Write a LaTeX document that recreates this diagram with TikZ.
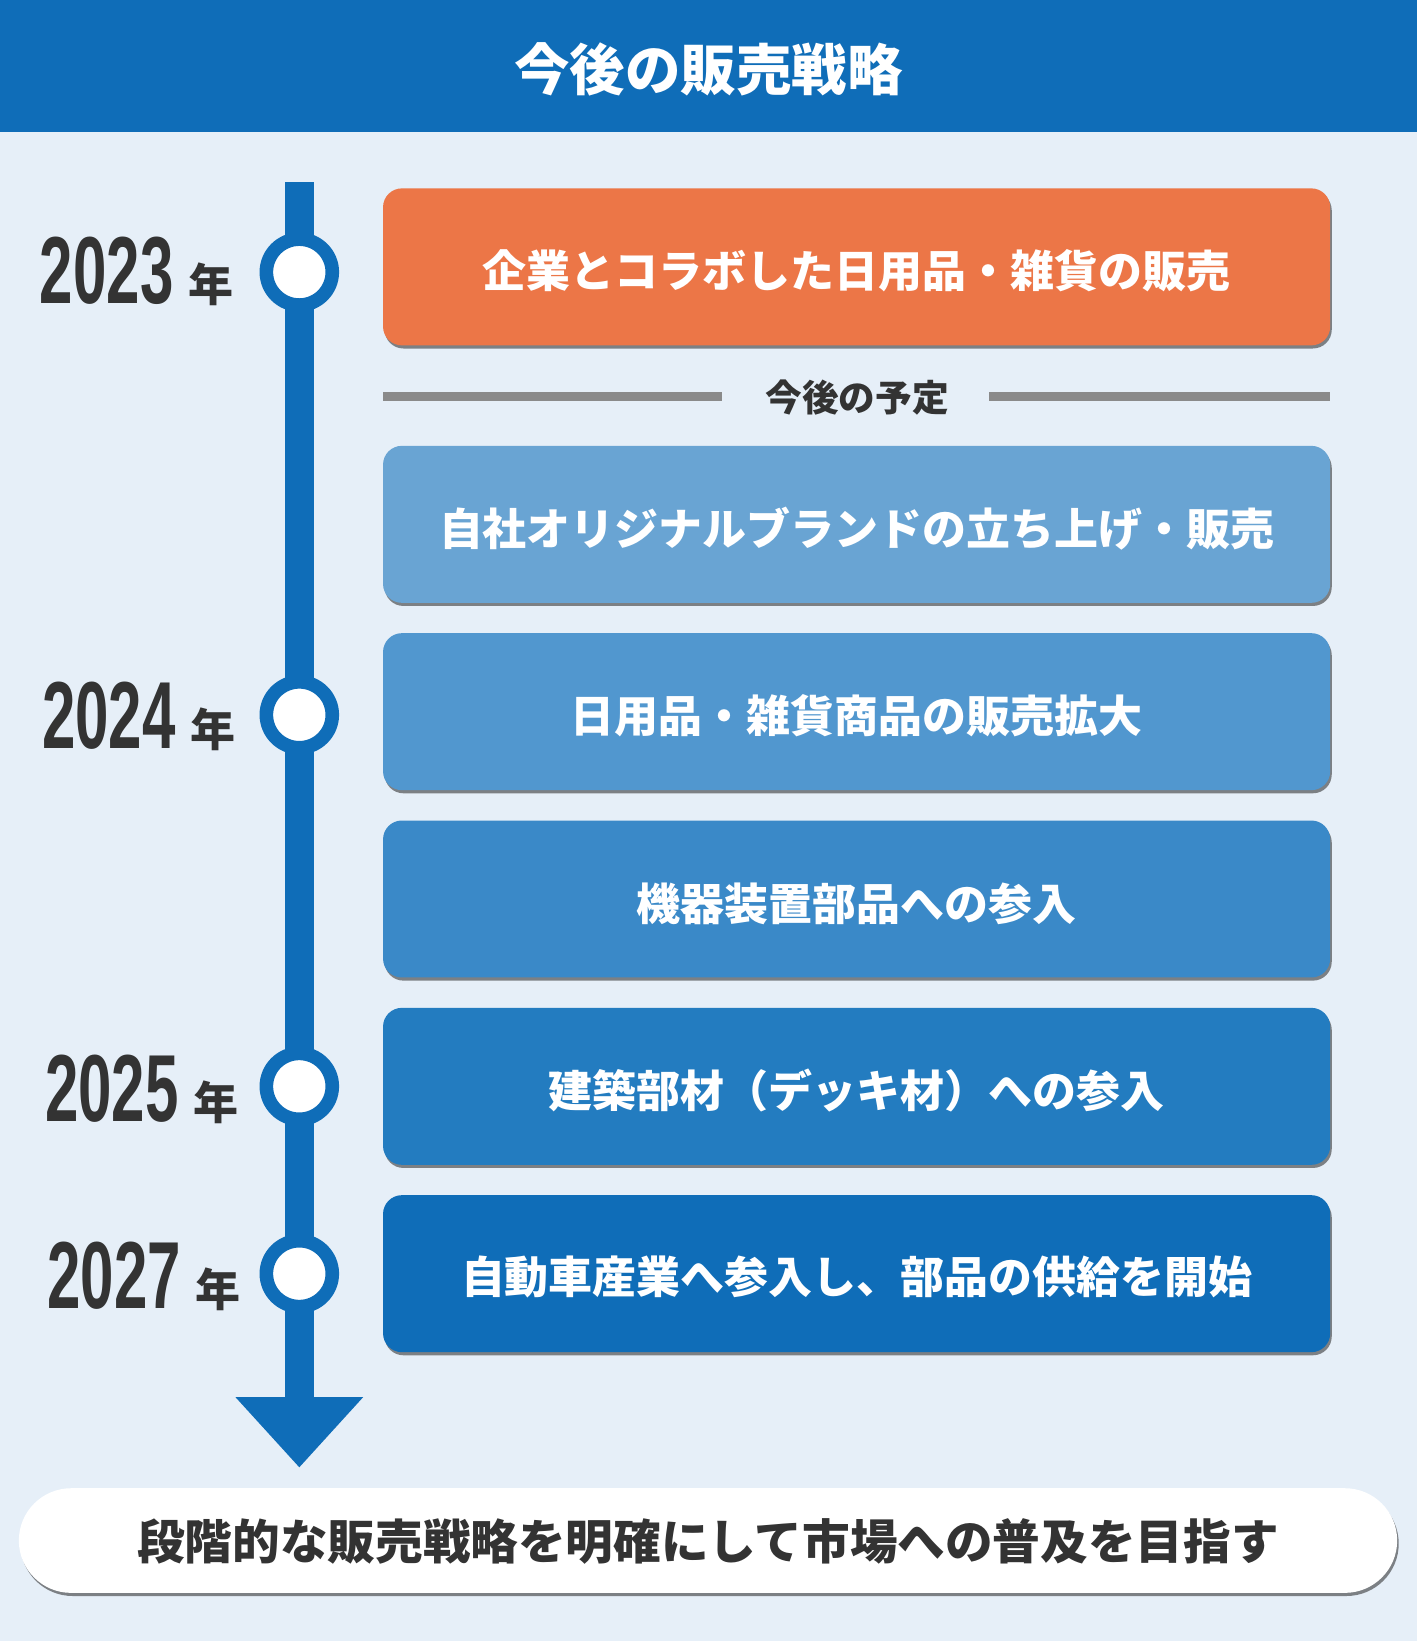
\documentclass[tikz,border=0pt]{standalone}
\usepackage{fontspec}
\setmainfont{Noto Sans CJK JP}
\newfontfamily\numfont{Liberation Sans}
\usetikzlibrary{shadows}
\definecolor{bg}{HTML}{E6EFF8}
\definecolor{tl}{HTML}{0F6DB8}
\definecolor{c1}{HTML}{EC7647}
\definecolor{c2}{HTML}{69A4D3}
\definecolor{c3}{HTML}{5197CF}
\definecolor{c4}{HTML}{3A89C8}
\definecolor{c5}{HTML}{237CC0}
\definecolor{c6}{HTML}{0F6DB8}
\definecolor{sepgray}{HTML}{8A8A8A}
\definecolor{dark}{HTML}{333333}
\begin{document}
\begin{tikzpicture}[x=1pt,y=-1pt,
  box/.style={rounded corners=18pt, minimum width=905pt, minimum height=150pt, inner sep=0pt,
    drop shadow={shadow xshift=1.5pt, shadow yshift=-3pt, opacity=0.55, fill=black!85}},
  boxtext/.style={text=white, inner sep=0pt, font=\fontsize{42}{50}\selectfont\bfseries},
  ring/.style={circle, draw=tl, fill=white, line width=13pt, minimum size=63pt, inner sep=0pt},
  yearnum/.style={anchor=base west, inner sep=0pt, text=dark},
  yearkan/.style={anchor=base west, inner sep=0pt, text=dark, font=\fontsize{43}{43}\selectfont\bfseries},
  sepline/.style={draw=sepgray, line width=9pt},
]
\newcommand\yr[1]{{\numfont\bfseries\fontsize{91}{91}\selectfont\scalebox{0.63}[1]{#1}}}
% background
\fill[bg] (0,0) rectangle (1354,1568);
\useasboundingbox (0,0) rectangle (1354,1568);
% banner
\fill[tl] (0,0) rectangle (1354,126);
\node[text=white, font=\fontsize{53}{60}\selectfont\bfseries] (title) at (677,66) {今後の販売戦略};
% timeline
\coordinate (ttop) at (286,174);
\coordinate (tend) at (286,1336);
\draw[tl, line width=28pt] (ttop) -- (tend);
\fill[tl] (225,1335) -- (347,1335) -- (286,1402) -- cycle;
% rings
\node[ring] (r1) at (286,260) {};
\node[ring] (r2) at (286,683) {};
\node[ring] (r3) at (286,1038) {};
\node[ring] (r4) at (286,1217) {};
% years
\node[yearnum] (y1) at (38,290) {\yr{2023}};
\node[yearkan] (k1) at (180,288) {年};
\node[yearnum] (y2) at (40,715) {\yr{2024}};
\node[yearkan] (k2) at (182,713) {年};
\node[yearnum] (y3) at (43,1072) {\yr{2025}};
\node[yearkan] (k3) at (185,1070) {年};
\node[yearnum] (y4) at (45,1250) {\yr{2027}};
\node[yearkan] (k4) at (187,1248) {年};
% boxes
\node[box, fill=c1] (b1) at (818.5,255) {};
\node[box, fill=c2] (b2) at (818.5,501) {};
\node[box, fill=c3] (b3) at (818.5,680) {};
\node[box, fill=c4] (b4) at (818.5,859) {};
\node[box, fill=c5] (b5) at (818.5,1038) {};
\node[box, fill=c6] (b6) at (818.5,1217) {};
\node[boxtext] (t1) at ([yshift=-4pt]b1.center) {企業とコラボした日用品・雑貨の販売};
\node[boxtext] (t2) at ([yshift=-4pt]b2.center) {自社オリジナルブランドの立ち上げ・販売};
\node[boxtext] (t3) at ([yshift=-4pt]b3.center) {日用品・雑貨商品の販売拡大};
\node[boxtext] (t4) at ([yshift=-5pt]b4.center) {機器装置部品への参入};
\node[boxtext] (t5) at ([yshift=-4pt]b5.center) {建築部材（デッキ材）への参入};
\node[boxtext] (t6) at ([yshift=-3pt]b6.center) {自動車産業へ参入し、部品の供給を開始};
% separator
\node[text=dark, font=\fontsize{35}{40}\selectfont\bfseries] (sep) at (819,380) {今後の予定};
\coordinate (s1a) at (366,379);
\coordinate (s1b) at (690,379);
\coordinate (s2a) at (945,379);
\coordinate (s2b) at (1271,379);
\draw[sepline] (s1a) -- (s1b);
\draw[sepline] (s2a) -- (s2b);
% bottom pill
\node[rounded corners=50pt, fill=white, minimum width=1317pt, minimum height=100pt, inner sep=0pt,
  drop shadow={shadow xshift=1.5pt, shadow yshift=-3pt, opacity=0.55, fill=black!85}] (goal) at (676.5,1472) {};
\node[text=dark, inner sep=0pt, font=\fontsize{45.5}{52}\selectfont\bfseries] (goaltext) at ([yshift=-1pt]goal.center)
  {段階的な販売戦略を明確にして市場への普及を目指す};
\end{tikzpicture}
\end{document}
